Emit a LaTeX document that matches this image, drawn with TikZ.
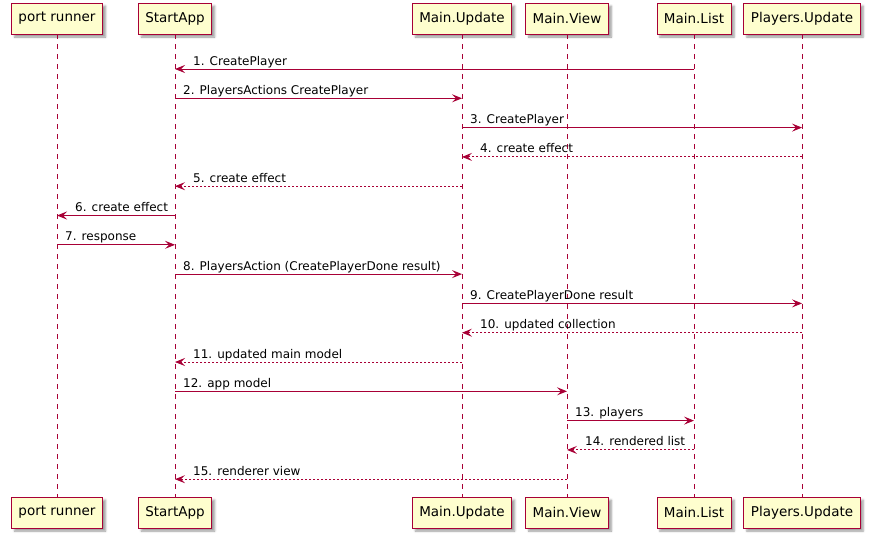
\documentclass[tikz,border=0pt]{standalone}
\usepackage{fontspec}
\setmainfont{DejaVu Sans}
\usetikzlibrary{arrows.meta,shadows.blur}
\definecolor{umlred}{HTML}{A80036}
\definecolor{umlfill}{HTML}{FEFECE}
\tikzset{
  actor/.style={draw=umlred, fill=umlfill, line width=0.9pt, minimum height=31pt,
    inner xsep=7pt, font=\fontsize{13.5}{15}\selectfont,
    blur shadow={shadow xshift=3pt, shadow yshift=-3pt, shadow blur steps=5}},
  lifeline/.style={umlred, line width=0.9pt, dash pattern=on 5pt off 5pt},
  call/.style={umlred, line width=0.9pt, -{Stealth[length=10pt,width=8pt,inset=4pt]}},
  reply/.style={call, dash pattern=on 2pt off 2pt},
  msg/.style={font=\fontsize{12}{14}\selectfont, anchor=base west, inner sep=0pt}
}

\begin{document}
\begin{tikzpicture}[x=1pt,y=-1pt]
\useasboundingbox (0,0) rectangle (869,538);
% participants, top and bottom, with their lifelines
\foreach \n/\x/\t in {pr/57/port runner, sa/175/StartApp, mu/462/Main.Update,
                      mv/567/Main.View, ml/694/Main.List, pu/802/Players.Update}
{
  \node[actor] (\n) at (\x,18.5) {\t};
  \node[actor] (\n b) at (\x,512.5) {\t};
  \draw[lifeline] (\n.south) -- (\n b.north);
}
% messages: number/from/to/style/left end/label offset/text
\foreach \i/\a/\b/\s/\l/\o/\t in {
   1/ml/sa/call/sa/18/CreatePlayer,
   2/sa/mu/call/sa/8/PlayersActions CreatePlayer,
   3/mu/pu/call/mu/8/CreatePlayer,
   4/pu/mu/reply/mu/18/create effect,
   5/mu/sa/reply/sa/18/create effect,
   6/sa/pr/call/pr/18/create effect,
   7/pr/sa/call/pr/8/response,
   8/sa/mu/call/sa/8/PlayersAction (CreatePlayerDone result),
   9/mu/pu/call/mu/8/CreatePlayerDone result,
  10/pu/mu/reply/mu/18/updated collection,
  11/mu/sa/reply/sa/18/updated main model,
  12/sa/mv/call/sa/8/app model,
  13/mv/ml/call/mv/8/players,
  14/ml/mv/reply/mv/18/rendered list,
  15/mv/sa/reply/sa/18/renderer view}
{
  \coordinate (m\i) at (0,39.7+29.3*\i);
  \draw[\s] (\a |- m\i) -- (\b |- m\i);
  \node[msg] (t\i) at ([shift={(\o,-4)}]\l |- m\i) {\i. \t};
}
\end{tikzpicture}
\end{document}
